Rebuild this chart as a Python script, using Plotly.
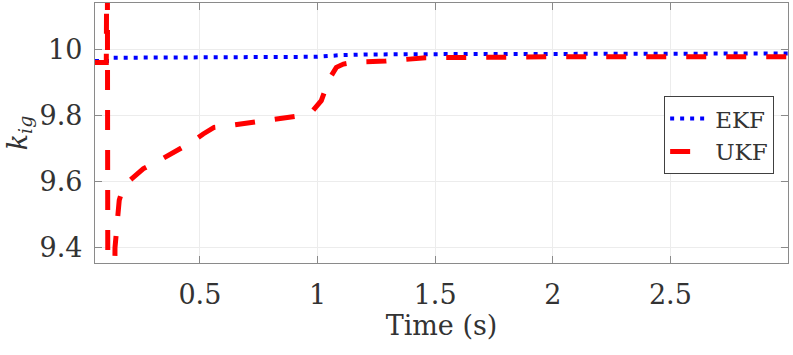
import plotly.graph_objects as go

# EKF estimate of k_ig
ekf_t = [0.054, 0.115, 0.13, 0.5, 1.0, 1.1, 1.2, 1.5, 2.0, 2.5, 3.0]
ekf_k = [9.966, 9.966, 9.976, 9.977, 9.979, 9.984, 9.986, 9.987, 9.988, 9.988, 9.989]

# UKF estimate of k_ig
ukf_t = [0.054, 0.102, 0.106, 0.109, 0.136, 0.139, 0.150, 0.157, 0.17, 0.181, 0.195,
         0.26, 0.34, 0.39, 0.465, 0.514, 0.56, 0.613, 0.7, 0.783, 0.87, 0.93, 0.98,
         1.016, 1.05, 1.08, 1.11, 1.15, 1.2, 1.29, 1.46, 1.7, 2.0, 2.5, 3.0]
ukf_k = [9.962, 9.962, 10.6, 9.0, 9.0, 9.40, 9.489, 9.544, 9.575, 9.59, 9.60,
         9.64, 9.67, 9.69, 9.72, 9.745, 9.765, 9.769, 9.778, 9.786, 9.795, 9.801, 9.816,
         9.846, 9.912, 9.947, 9.957, 9.962, 9.964, 9.966, 9.976, 9.978, 9.979, 9.979, 9.979]

x_ticks = [0.5, 1, 1.5, 2, 2.5]
y_ticks = [9.4, 9.6, 9.8, 10]

font = "DejaVu Serif"
txt_color = "#333333"

fig = go.Figure()
fig.add_trace(go.Scatter(x=ekf_t, y=ekf_k, mode="lines", name="EKF",
                         line=dict(color="#0000ff", width=4, dash="4px,6px")))
fig.add_trace(go.Scatter(x=ukf_t, y=ukf_k, mode="lines", name="UKF",
                         line=dict(color="#ff0000", width=5, dash="20px,20px")))

axis_style = dict(showline=True, linecolor="#8a8a8a", linewidth=1.3, mirror="ticks",
                  ticks="inside", ticklen=7, tickcolor="#8a8a8a", automargin=False,
                  showgrid=True, gridcolor="#ececec", gridwidth=1, zeroline=False,
                  tickfont=dict(family=font, size=27, color=txt_color))

fig.update_xaxes(range=[0.054, 3.0], tickvals=x_ticks, ticktext=["0.5", "1", "1.5", "2", "2.5"],
                 ticklabelstandoff=7,
                 title=dict(text="Time (s)", font=dict(family=font, size=27, color=txt_color),
                            standoff=2),
                 **axis_style)
fig.update_yaxes(range=[9.354, 10.142], tickvals=y_ticks, ticktext=["9.4", "9.6", "9.8", "10"],
                 ticklabelstandoff=6,
                 title=dict(text="<i>k</i><sub><i>ig</i></sub>",
                            font=dict(family=font, size=27, color=txt_color), standoff=4),
                 **axis_style)

fig.update_layout(
    width=793, height=355,
    margin=dict(l=95, r=5, t=3, b=92, autoexpand=False),
    plot_bgcolor="white", paper_bgcolor="white",
    legend=dict(x=0.98, y=0.642, xanchor="right", yanchor="top",
                bgcolor="white", bordercolor="#404040", borderwidth=1,
                font=dict(family=font, size=23, color=txt_color),
                itemwidth=40, tracegroupgap=0),
)

# drop the default page margin so the figure sits at the window corner
fig.write_html("out.html", config={"displayModeBar": False},
               post_script="document.body.style.margin='0';")
